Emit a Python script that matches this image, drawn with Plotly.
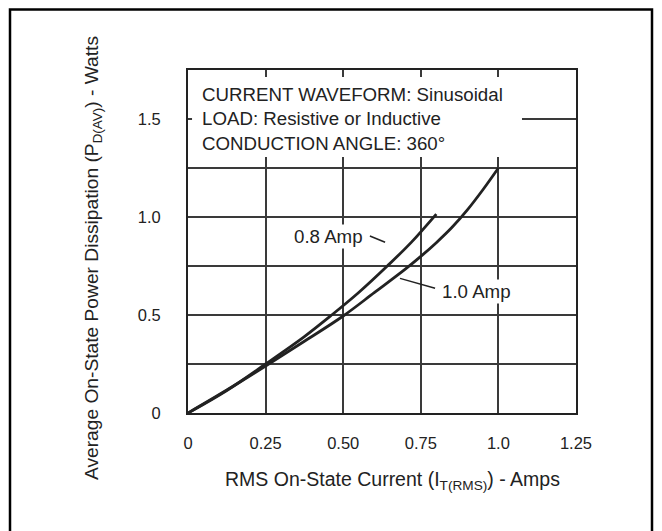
import plotly.graph_objects as go

# Data
x_08 = [0, 0.125, 0.25, 0.375, 0.463, 0.55, 0.642, 0.72, 0.80]
y_08 = [0, 0.115, 0.25, 0.39, 0.50, 0.615, 0.75, 0.872, 1.015]
x_10 = [0, 0.125, 0.25, 0.375, 0.5, 0.6, 0.7, 0.75, 0.8, 0.85, 0.9, 0.95, 1.0]
y_10 = [0, 0.117, 0.24, 0.366, 0.495, 0.614, 0.734, 0.799, 0.869, 0.946, 1.036, 1.139, 1.25]

x_tickvals = [0, 0.25, 0.5, 0.75, 1.0, 1.25]
x_ticktext = ["0", "0.25", "0.50", "0.75", "1.0", "1.25"]
y_tickvals = [0, 0.5, 1.0, 1.5]
y_ticktext = ["0", "0.5", "1.0", "1.5"]

FONT = "Liberation Sans, Arial, sans-serif"
INK = "#222222"
GRID = "#3a3a3a"

fig = go.Figure()
for xs, ys in ((x_08, y_08), (x_10, y_10)):
    fig.add_trace(go.Scatter(x=xs, y=ys, mode="lines",
                             line=dict(color=INK, width=2.8, shape="spline", smoothing=1.0),
                             showlegend=False, hoverinfo="skip"))

# page geometry (page has an 8px body margin)
OFF = 8
W, H = 654, 523
L, T, R, B = 180, 62, 86, 118
PL, PT = OFF + L, OFF + T          # plot left/top in page px
PW, PH = W - L - R, H - T - B

def px(x):
    return (x - PL) / PW

def py(y):
    return (PT + PH - y) / PH

shapes = [
    # outer frame
    dict(type="rect", xref="paper", yref="paper", x0=px(10), x1=px(652), y0=py(560), y1=py(9.5),
         line=dict(color="black", width=2.5), fillcolor="rgba(0,0,0,0)", layer="above"),
    # white text box region hiding the grid
    dict(type="rect", xref="x", yref="y", x0=0.013, x1=1.076, y0=1.306, y1=1.714,
         line=dict(width=0), fillcolor="white", layer="above"),
    # leader lines
    dict(type="line", xref="x", yref="y", x0=0.586, y0=0.903, x1=0.635, y1=0.871,
         line=dict(color=INK, width=1.5)),
    dict(type="line", xref="x", yref="y", x0=0.683, y0=0.687, x1=0.796, y1=0.636,
         line=dict(color=INK, width=1.5)),
]

annotations = [
    dict(text="CURRENT WAVEFORM: Sinusoidal<br>LOAD: Resistive or Inductive<br>CONDUCTION ANGLE: 360°",
         xref="paper", yref="paper", x=px(200), y=py(119), xanchor="left", yanchor="middle", align="left",
         showarrow=False, font=dict(family=FONT, size=18.7, color=INK)),
    dict(text="0.8 Amp", xref="x", yref="y", x=0.454, y=0.903, xanchor="center", yanchor="middle",
         showarrow=False, bgcolor="white", font=dict(family=FONT, size=18.7, color=INK)),
    dict(text="1.0 Amp", xref="x", yref="y", x=0.928, y=0.619, xanchor="center", yanchor="middle",
         showarrow=False, bgcolor="white", font=dict(family=FONT, size=18.7, color=INK)),
    dict(text="Average On-State Power Dissipation (P<sub>D(AV)</sub>) - Watts", xref="paper", yref="paper",
         x=px(93), y=py(258), xanchor="center", yanchor="middle", textangle=-90, showarrow=False,
         font=dict(family=FONT, size=19.2, color=INK)),
    dict(text="RMS On-State Current (I<sub>T(RMS)</sub>) - Amps", xref="paper", yref="paper",
         x=px(392), y=py(480), xanchor="center", yanchor="middle", showarrow=False,
         font=dict(family=FONT, size=19.5, color=INK)),
]

fig.update_layout(
    width=W, height=H, margin=dict(l=L, r=R, t=T, b=B),
    paper_bgcolor="white", plot_bgcolor="white",
    shapes=shapes, annotations=annotations,
    xaxis=dict(range=[0, 1.25], tickvals=x_tickvals, ticktext=x_ticktext, showgrid=True, gridcolor=GRID, gridwidth=1.5,
               zeroline=False, showline=True, mirror=True, linecolor=INK, linewidth=2, ticks="",
               ticklabelstandoff=14, tickfont=dict(family=FONT, size=16.5, color=INK)),
    yaxis=dict(range=[0, 1.75], tickvals=y_tickvals, ticktext=y_ticktext, showgrid=True, gridcolor=GRID, gridwidth=1.5,
               zeroline=False, showline=True, mirror=True, linecolor=INK, linewidth=2, ticks="",
               minor=dict(dtick=0.25, tick0=0, showgrid=True, gridcolor=GRID, gridwidth=1.5),
               ticklabelstandoff=22, tickfont=dict(family=FONT, size=16.5, color=INK)),
)

fig.write_html("out.html")
